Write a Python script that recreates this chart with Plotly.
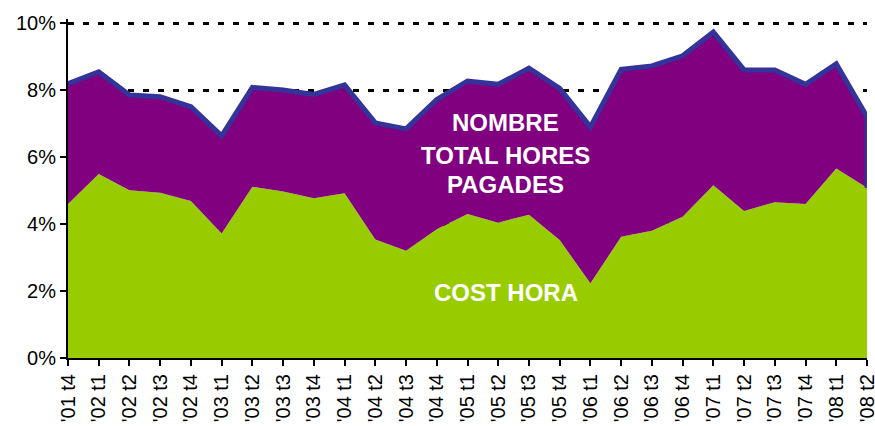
import plotly.graph_objects as go

categories = ["'01 t4", "'02 t1", "'02 t2", "'02 t3", "'02 t4", "'03 t1", "'03 t2", "'03 t3", "'03 t4",
              "'04 t1", "'04 t2", "'04 t3", "'04 t4", "'05 t1", "'05 t2", "'05 t3", "'05 t4",
              "'06 t1", "'06 t2", "'06 t3", "'06 t4", "'07 t1", "'07 t2", "'07 t3", "'07 t4",
              "'08 t1", "'08 t2"]

cost_hora = [4.60, 5.49, 5.01, 4.93, 4.69, 3.72, 5.11, 4.97, 4.77,
             4.92, 3.54, 3.20, 3.84, 4.30, 4.04, 4.28, 3.52,
             2.23, 3.62, 3.80, 4.22, 5.16, 4.39, 4.65, 4.60,
             5.66, 5.08]

nombre_hores = [3.59, 3.05, 2.84, 2.87, 2.81, 2.91, 2.97, 3.03, 3.10,
                3.23, 3.48, 3.64, 3.88, 3.97, 4.13, 4.37, 4.53,
                4.67, 5.00, 4.92, 4.80, 4.57, 4.21, 3.95, 3.57,
                3.12, 2.12]

y_ticks = [0, 2, 4, 6, 8, 10]

GREEN = "#99CC00"
PURPLE = "#800080"
BLUE = "#333399"
FONT = "Liberation Sans, Arial, sans-serif"

fig = go.Figure()
fig.add_trace(go.Scatter(x=categories, y=cost_hora, stackgroup="a", mode="lines",
                         line=dict(width=0, color=GREEN), fillcolor=GREEN,
                         name="COST HORA", hoverinfo="skip"))
fig.add_trace(go.Scatter(x=categories, y=nombre_hores, stackgroup="a", mode="lines",
                         line=dict(width=5, color=BLUE), fillcolor=PURPLE,
                         name="NOMBRE TOTAL HORES PAGADES", hoverinfo="skip"))
# right edge of the purple area
fig.add_trace(go.Scatter(x=[categories[-1], categories[-1]],
                         y=[cost_hora[-1], cost_hora[-1] + nombre_hores[-1]],
                         mode="lines", line=dict(width=5, color=BLUE), hoverinfo="skip"))

fig.update_layout(
    width=875, height=426,
    margin=dict(l=68, r=8, t=19, b=68, autoexpand=False),
    paper_bgcolor="white", plot_bgcolor="white",
    showlegend=False,
    font=dict(family=FONT, size=20, color="black"),
    xaxis=dict(type="category", range=[0, len(categories) - 1],
               showline=True, linecolor="black", linewidth=2,
               ticks="outside", ticklen=6, tickwidth=2, tickcolor="black",
               tickangle=-90, showgrid=False, zeroline=False,
               tickfont=dict(family=FONT, size=20, color="black")),
    yaxis=dict(range=[0, 10.12], tickvals=y_ticks, ticktext=[f"{v}%" for v in y_ticks],
               showline=True, linecolor="black", linewidth=2,
               ticks="outside", ticklen=6, tickwidth=2, tickcolor="black",
               showgrid=True, gridcolor="black", gridwidth=3, griddash="6px,9px",
               zeroline=False,
               tickfont=dict(family=FONT, size=20, color="black")),
)

label_font = dict(family=FONT, size=24, color="white")
for text, yv in [("<b>NOMBRE</b>", 7.02), ("<b>TOTAL HORES</b>", 6.06), ("<b>PAGADES</b>", 5.17), ("<b>COST HORA</b>", 1.95)]:
    fig.add_annotation(x=14.25, y=yv, xref="x", yref="y", text=text, showarrow=False,
                       font=label_font, xanchor="center", yanchor="middle")

fig.write_html("out.html", config={"displayModeBar": False},
               post_script="document.body.style.margin='0';document.body.style.overflow='hidden';")
